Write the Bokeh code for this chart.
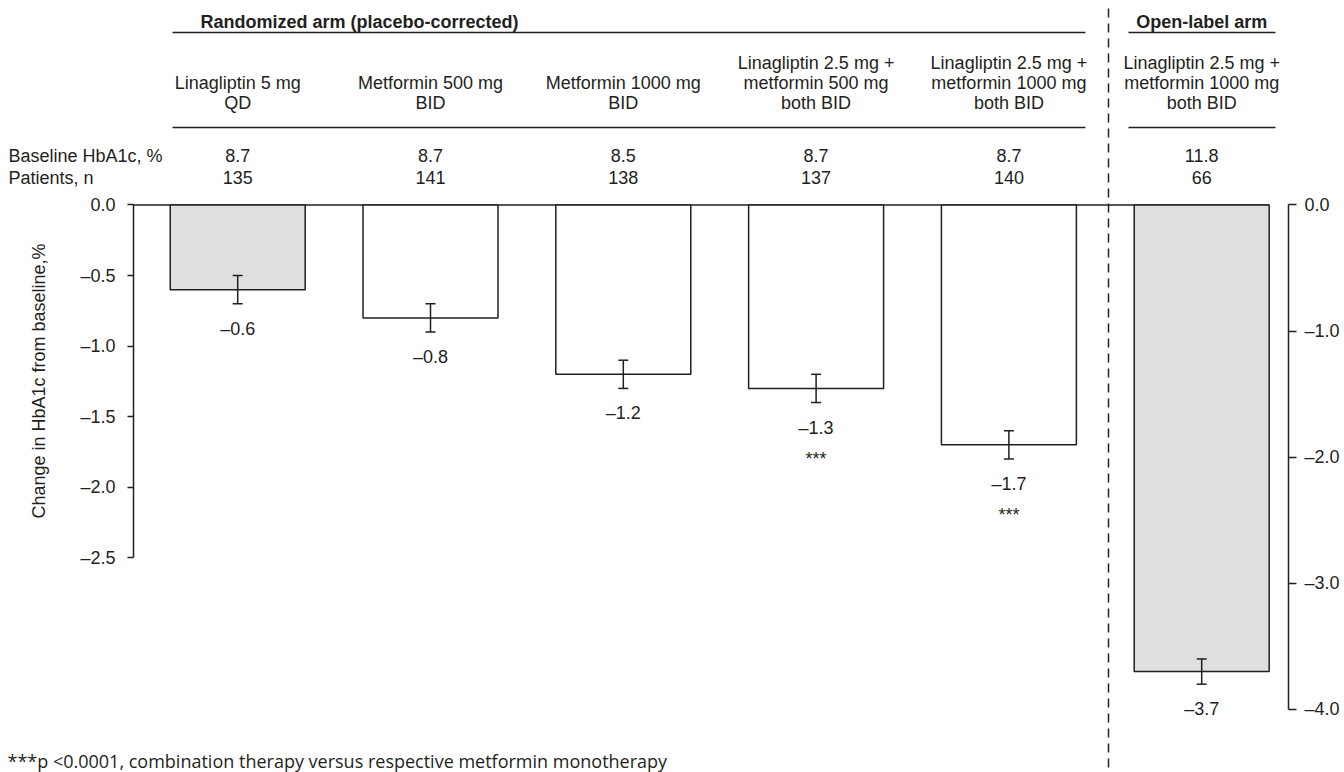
from bokeh.plotting import figure
from bokeh.models import (Range1d, LinearAxis, FixedTicker, CustomJSTickFormatter,
                          ColumnDataSource)
from bokeh.core.properties import value
from bokeh.embed import file_html
from bokeh.resources import INLINE

# ---------------- data ----------------
treatments = [
    "Linagliptin 5 mg\nQD",
    "Metformin 500 mg\nBID",
    "Metformin 1000 mg\nBID",
    "Linagliptin 2.5 mg +\nmetformin 500 mg\nboth BID",
    "Linagliptin 2.5 mg +\nmetformin 1000 mg\nboth BID",
    "Linagliptin 2.5 mg +\nmetformin 1000 mg\nboth BID",
]
arms = ["Randomized arm (placebo-corrected)"] * 5 + ["Open-label arm"]
baseline_hba1c = ["8.7", "8.7", "8.5", "8.7", "8.7", "11.8"]
patients = ["135", "141", "138", "137", "140", "66"]
change = [-0.6, -0.8, -1.2, -1.3, -1.7, -3.7]
se = [0.1, 0.1, 0.1, 0.1, 0.1, 0.1]
significance = ["", "", "", "***", "***", ""]
left_ticks = [0.0, -0.5, -1.0, -1.5, -2.0, -2.5]
right_ticks = [0.0, -1.0, -2.0, -3.0, -4.0]
row_labels = ["Baseline HbA1c, %", "Patients, n"]
y_label = "Change in HbA1c from baseline,%"
footnote = "***p <0.0001, combination therapy versus respective metformin monotherapy"

# ---------------- style / layout ----------------
INK = "#231F20"
GREY = "#DFDFDF"
FONT = value("Liberation Sans")
FS = "18px"
BAR_W = 0.70
grey_bars = {0, 5}

W, H = 1344, 772
X0_PX, X_STEP = 237.2, 192.8          # pixel of first bar centre, pixels per bar slot
LEFT_AX_PX, RIGHT_AX_PX = 133, 1288   # axis positions in pixels
SHIFT = 6                             # baseline correction for alphabetic text


def px_to_x(px):
    return (px - X0_PX) / X_STEP


pos = list(range(len(change)))
fills = [GREY if i in grey_bars else "white" for i in pos]
lo = [c - s for c, s in zip(change, se)]
hi = [c + s for c, s in zip(change, se)]
labels = [("\u2013" if c < 0 else "") + f"{abs(c):.1f}" for c in change]

p = figure(width=W, height=H,
           x_range=Range1d(px_to_x(0), px_to_x(W)),
           y_range=Range1d(-4.0220, 1.4493),
           output_backend="svg", toolbar_location=None,
           x_axis_location=None, y_axis_location=None, title=None,
           min_border_left=0, min_border_right=0,
           min_border_top=0, min_border_bottom=0,
           outline_line_color=None,
           background_fill_color="white", border_fill_color="white")
p.grid.visible = False
p.extra_y_ranges = {"right": Range1d(-4.5004, 1.6217), "page": Range1d(H, 0)}
p.extra_x_ranges = {"page": Range1d(0, W)}

fmt_code = "return (tick < 0 ? '\\u2013' : '') + Math.abs(tick).toFixed(1);"


def style_axis(ax):
    ax.axis_line_color = INK
    ax.axis_line_width = 1.5
    ax.major_tick_line_color = INK
    ax.major_tick_line_width = 1.5
    ax.major_tick_in = 0
    ax.major_tick_out = 6
    ax.minor_tick_line_color = None
    ax.major_label_text_font = "Liberation Sans"
    ax.major_label_text_font_size = FS
    ax.major_label_text_color = INK


lax = LinearAxis(bounds=(-2.5, 0), fixed_location=px_to_x(LEFT_AX_PX),
                 ticker=FixedTicker(ticks=left_ticks),
                 formatter=CustomJSTickFormatter(code=fmt_code))
style_axis(lax)
lax.major_label_standoff = 12
lax.axis_label = y_label
lax.axis_label_text_font = "Liberation Sans"
lax.axis_label_text_font_size = FS
lax.axis_label_text_font_style = "normal"
lax.axis_label_text_color = INK
lax.axis_label_standoff = 28
p.add_layout(lax, "left")

rax = LinearAxis(y_range_name="right", bounds=(-4, 0),
                 fixed_location=px_to_x(RIGHT_AX_PX),
                 ticker=FixedTicker(ticks=right_ticks),
                 formatter=CustomJSTickFormatter(code=fmt_code))
style_axis(rax)
rax.major_tick_out = 8
rax.major_label_standoff = 8
p.add_layout(rax, "right")

# ---------------- bars, error bars, labels ----------------
def cols(idx):
    return dict(x=[pos[i] for i in idx], bottom=[change[i] for i in idx],
                fill=[fills[i] for i in idx], lo=[lo[i] for i in idx],
                hi=[hi[i] for i in idx], label=[labels[i] for i in idx],
                sig=[significance[i] for i in idx])

rand_idx = [i for i, a in enumerate(arms) if a == arms[0]]
open_idx = [i for i, a in enumerate(arms) if a != arms[0]]

# zero baseline line
p.segment(x0=[px_to_x(LEFT_AX_PX)], y0=[0], x1=[pos[-1] + BAR_W / 2], y1=[0],
          line_color=INK, line_width=1.5)

for idx, rname in [(rand_idx, "default"), (open_idx, "right")]:
    src = ColumnDataSource(cols(idx))
    p.vbar(x="x", width=BAR_W, top=0, bottom="bottom", source=src,
           fill_color="fill", line_color=INK, line_width=1.5, y_range_name=rname)
    p.segment(x0="x", y0="lo", x1="x", y1="hi", source=src,
              line_color=INK, line_width=1.5, y_range_name=rname)
    for key in ("lo", "hi"):
        p.scatter(x="x", y=key, source=src, marker="dash", size=10,
                  line_color=INK, line_width=1.5, y_range_name=rname)
    p.text(x="x", y="lo", text="label", source=src, y_offset=31 - SHIFT,
           text_font=FONT, text_font_size=FS, text_color=INK,
           text_align="center", text_baseline="alphabetic", y_range_name=rname)
    p.text(x="x", y="lo", text="sig", source=src, y_offset=62 - SHIFT,
           text_font=FONT, text_font_size=FS, text_color=INK,
           text_align="center", text_baseline="alphabetic", y_range_name=rname)

# ---------------- header ----------------
TXT = dict(text_font=FONT, text_font_size=FS, text_color=INK,
           text_baseline="alphabetic")

p.text(x=[200], y=[27 - SHIFT], text=[arms[0]], x_range_name="page",
       y_range_name="page", text_align="left", text_font_style="bold", **TXT)
p.text(x=[pos[open_idx[0]]], y=[27 - SHIFT], text=[arms[open_idx[0]]],
       y_range_name="page", text_align="center", text_font_style="bold", **TXT)

hx, hy, ht = [], [], []
for i, t in enumerate(treatments):
    lines = t.split("\n")
    n = len(lines)
    for k, ln in enumerate(lines):
        hx.append(pos[i])
        hy.append(108 - SHIFT - 20 * (n - 1 - k))
        ht.append(ln)
p.text(x=hx, y=hy, text=ht, y_range_name="page", text_align="center", **TXT)

p.text(x=pos, y=[161 - SHIFT] * len(pos), text=baseline_hba1c, y_range_name="page",
       text_align="center", **TXT)
p.text(x=pos, y=[183 - SHIFT] * len(pos), text=patients, y_range_name="page",
       text_align="center", **TXT)

p.text(x=[8, 8], y=[161 - SHIFT, 183 - SHIFT], text=row_labels, x_range_name="page",
       y_range_name="page", text_align="left", **TXT)

for yy in (32, 127):
    p.segment(x0=[172, 1128], y0=[yy, yy], x1=[1085, 1275], y1=[yy, yy],
              x_range_name="page", y_range_name="page",
              line_color=INK, line_width=1.5)

# dashed separator
p.segment(x0=[1108], y0=[8], x1=[1108], y1=[H],
          x_range_name="page", y_range_name="page",
          line_color=INK, line_width=1.5, line_dash="9 6")

# footnote
p.text(x=[7], y=[760], text=[footnote], x_range_name="page", y_range_name="page",
       text_align="left", text_font=value("Open Sans"), text_font_size=FS,
       text_color=INK, text_baseline="alphabetic")

open("out.html", "w").write(file_html(p, INLINE))
